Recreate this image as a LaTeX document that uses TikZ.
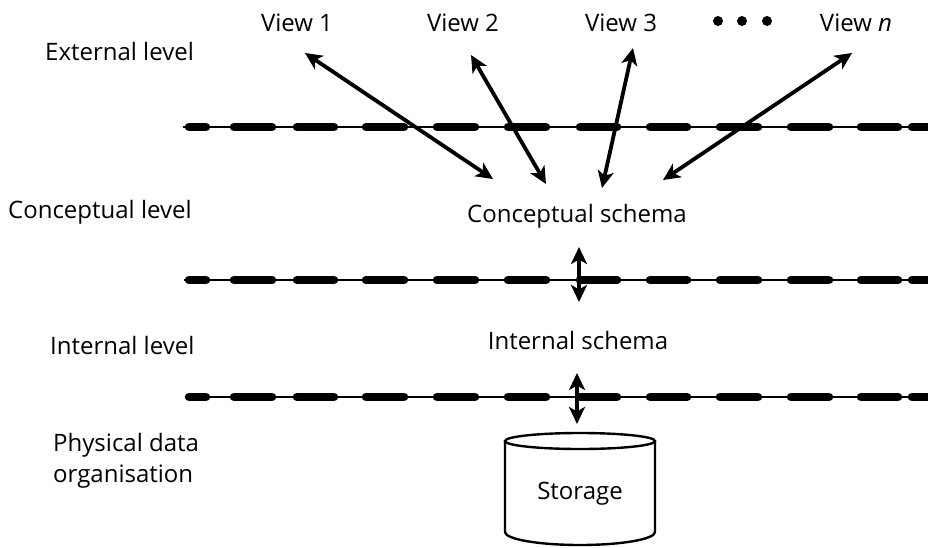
\documentclass[tikz,border=0pt]{standalone}
\usepackage{fontspec}
\setmainfont{Open Sans}
\usetikzlibrary{arrows.meta}
\tikzset{
  lbl/.style={inner sep=0pt, font=\fontsize{24}{31}\selectfont},
  dbl/.style={line width=3.8pt, {Stealth[length=17pt,width=16pt,inset=4.5pt]}-{Stealth[length=17pt,width=16pt,inset=4.5pt]}},
  thinline/.style={line width=1.2pt},
  thickdash/.style={line width=8.5pt, line cap=round},
  cyl/.style={line width=2.4pt}
}
\begin{document}
\begin{tikzpicture}[x=1pt,y=-1pt]
\useasboundingbox (0,0) rectangle (928,547);
% level separators
\foreach \yy/\xs in {127/183, 280/184, 397/186}{
  \draw[thinline] (\xs,\yy) -- (928,\yy);
  \foreach \a/\b in {189/206, 234/272, 297/334, 366/404, 437/475, 508/546, 580/617, 650/687, 720/758, 791/829, 861/898, 912/940}{
    \draw[thickdash] (\a,\yy) -- (\b,\yy);
  }
}
% labels
\node[lbl, anchor=base] (v1) at (297,31) {View 1};
\node[lbl, anchor=base] (v2) at (463,31) {View 2};
\node[lbl, anchor=base] (v3) at (621,31) {View 3};
\node[lbl, anchor=base] (vn) at (856,31) {View \emph{n}};
\fill (718,21) circle (5) (742,21) circle (5) (767,21) circle (5);
\node[lbl, anchor=base west] (ext) at (45,60) {External level};
\node[lbl, anchor=base west] (con) at (8,218) {Conceptual level};
\node[lbl, anchor=base west] (int) at (50,354) {Internal level};
\node[lbl, anchor=base west, align=left] (phy) at (53,482) {Physical data\\organisation};
\node[lbl, anchor=base] (cs) at (577,222) {Conceptual schema};
\node[lbl, anchor=base] (is) at (578,349) {Internal schema};
% storage cylinder
\node[lbl, anchor=base] (st) at (580,499) {Storage};
\draw[cyl] (580,441) ellipse [x radius=75, y radius=8];
\draw[cyl] (505,441) -- (505,532) arc[start angle=180, end angle=0, x radius=75, y radius=13] -- (655,441);
% arrow end points
\coordinate (a1t) at (305,53);  \coordinate (a1b) at (493,179);
\coordinate (a2t) at (471,55);  \coordinate (a2b) at (546,184);
\coordinate (a3t) at (633,48);  \coordinate (a3b) at (602,188);
\coordinate (ant) at (852,53);  \coordinate (anb) at (663,180);
\coordinate (c1t) at (579,247); \coordinate (c1b) at (579,302);
\coordinate (c2t) at (577,373); \coordinate (c2b) at (577,424);
\draw[dbl] (a1t) -- (a1b);
\draw[dbl] (a2t) -- (a2b);
\draw[dbl] (a3t) -- (a3b);
\draw[dbl] (ant) -- (anb);
\draw[dbl] (c1t) -- (c1b);
\draw[dbl] (c2t) -- (c2b);
\end{tikzpicture}
\end{document}
